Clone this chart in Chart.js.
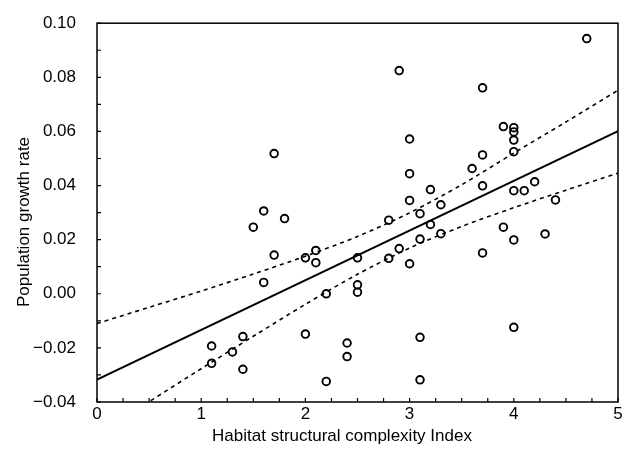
<!DOCTYPE html>
<html>
<head>
<meta charset="utf-8">
<script src="https://cdn.jsdelivr.net/npm/chart.js@4"></script>
<style>
  body { margin: 0; background: #fff; }
  canvas { display: block; }
</style>
</head>
<body>
<canvas id="chart" width="629" height="460"></canvas>
<script>
// observed points
const habitatX = [
  1.1, 1.1, 1.3, 1.4, 1.4, 1.5, 1.6, 1.6, 1.7, 1.7, 1.8,
  2.0, 2.0, 2.1, 2.1, 2.2, 2.2, 2.4, 2.4, 2.5, 2.5, 2.5,
  2.8, 2.8, 2.9, 2.9, 3.0, 3.0, 3.0, 3.0, 3.1, 3.1, 3.1, 3.1,
  3.2, 3.2, 3.3, 3.3, 3.6, 3.7, 3.7, 3.7, 3.7, 3.9, 3.9,
  4.0, 4.0, 4.0, 4.0, 4.0, 4.0, 4.0, 4.1, 4.2, 4.3, 4.4, 4.7
];
const growthY = [
  -0.0193, -0.0257, -0.0215, -0.0158, -0.0279, 0.0246, 0.0306, 0.0042, 0.0518, 0.0143, 0.0278,
  0.0133, -0.0149, 0.0160, 0.0115, 0.0000, -0.0324, -0.0182, -0.0232, 0.0133, 0.0033, 0.0006,
  0.0272, 0.0131, 0.0825, 0.0167, 0.0572, 0.0444, 0.0345, 0.0111, 0.0296, 0.0202, -0.0161, -0.0318,
  0.0385, 0.0256, 0.0329, 0.0222, 0.0463, 0.0761, 0.0513, 0.0399, 0.0151, 0.0618, 0.0246,
  0.0614, 0.0598, 0.0568, 0.0525, 0.0381, 0.0199, -0.0124, 0.0381, 0.0414, 0.0221, 0.0347, 0.0943
];

// fitted line and confidence band
const fitX = [0, 5];
const fitY = [-0.0317, 0.0601];
const bandX = [0, 0.5, 1, 1.5, 2, 2.5, 3, 3.5, 4, 4.5, 5];
const upperY = [-0.0110, -0.0050, 0.0010, 0.0073, 0.0139, 0.0212, 0.0299, 0.0403, 0.0520, 0.0635, 0.0752];
const lowerY = [-0.0523, -0.0399, -0.0277, -0.0157, -0.0039, 0.0072, 0.0169, 0.0249, 0.0318, 0.0383, 0.0446];

const xTicks = [0, 1, 2, 3, 4, 5];
const yTicks = [-0.04, -0.02, 0.00, 0.02, 0.04, 0.06, 0.08, 0.10];

const xTitle = 'Habitat structural complexity Index';
const yTitle = 'Population growth rate';

const FONT = "'Liberation Sans', Arial, Helvetica, sans-serif";

const zip = (xs, ys) => xs.map((x, i) => ({ x: x, y: ys[i] }));

// box, inward tick marks and axis titles
const frame = {
  id: 'frame',
  afterDraw(chart) {
    const ctx = chart.ctx;
    const a = chart.chartArea;
    const xs = chart.scales.x;
    const ys = chart.scales.y;
    ctx.save();
    ctx.strokeStyle = '#000';
    ctx.lineWidth = 1.5;
    ctx.strokeRect(a.left, a.top, a.right - a.left, a.bottom - a.top);

    ctx.lineWidth = 1.2;
    ctx.beginPath();
    for (let i = 0; i <= 20; i++) {
      const px = xs.getPixelForValue(i * 0.25);
      ctx.moveTo(px, a.bottom);
      ctx.lineTo(px, a.bottom - 4);
    }
    for (let i = 0; i <= 14; i++) {
      const py = ys.getPixelForValue(-0.04 + i * 0.01);
      ctx.moveTo(a.left, py);
      ctx.lineTo(a.left + 4, py);
    }
    ctx.stroke();

    ctx.fillStyle = '#000';
    ctx.font = '17px ' + FONT;
    ctx.textAlign = 'center';
    ctx.textBaseline = 'middle';
    ctx.fillText(xTitle, 342, 436);
    ctx.translate(24, 222);
    ctx.rotate(-Math.PI / 2);
    ctx.fillText(yTitle, 0, 0);
    ctx.restore();
  }
};

const tickFont = { family: FONT, size: 17 };

new Chart(document.getElementById('chart'), {
  type: 'scatter',
  data: {
    datasets: [
      {
        label: 'upper',
        data: zip(bandX, upperY),
        showLine: true,
        borderColor: '#000',
        borderWidth: 1.6,
        borderDash: [4, 4],
        pointRadius: 0,
        tension: 0.3
      },
      {
        label: 'lower',
        data: zip(bandX, lowerY),
        showLine: true,
        borderColor: '#000',
        borderWidth: 1.6,
        borderDash: [4, 4],
        pointRadius: 0,
        tension: 0.3
      },
      {
        label: 'fit',
        data: zip(fitX, fitY),
        showLine: true,
        borderColor: '#000',
        borderWidth: 2,
        pointRadius: 0
      },
      {
        label: 'data',
        data: zip(habitatX, growthY),
        pointStyle: 'circle',
        pointRadius: 3.8,
        pointBorderWidth: 1.9,
        borderColor: '#000',
        backgroundColor: 'rgba(0,0,0,0)'
      }
    ]
  },
  options: {
    responsive: false,
    animation: false,
    events: [],
    layout: { padding: { top: 16, right: 11, left: 0, bottom: 0 } },
    plugins: {
      legend: { display: false },
      tooltip: { enabled: false }
    },
    scales: {
      x: {
        type: 'linear',
        min: 0,
        max: 5,
        afterFit: s => { s.height = 58; },
        afterBuildTicks: s => { s.ticks = xTicks.map(v => ({ value: v })); },
        ticks: {
          color: '#000',
          font: tickFont,
          padding: -6,
          maxRotation: 0,
          callback: v => String(v)
        },
        grid: { display: false },
        border: { display: false }
      },
      y: {
        min: -0.04,
        max: 0.10,
        afterFit: s => { s.width = 97; },
        afterBuildTicks: s => { s.ticks = yTicks.map(v => ({ value: v })); },
        ticks: {
          color: '#000',
          font: tickFont,
          padding: 13,
          callback: v => v.toFixed(2).replace('-', '\u2212')
        },
        grid: { display: false },
        border: { display: false }
      }
    }
  },
  plugins: [frame]
});
</script>
</body>
</html>
